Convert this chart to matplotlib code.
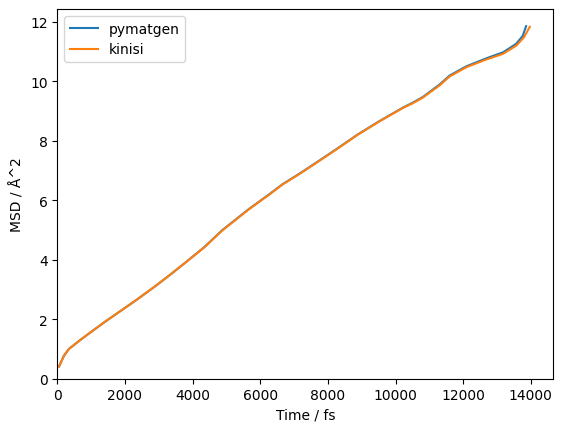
import matplotlib
matplotlib.use("Agg")
import matplotlib.pyplot as plt

# kinisi series (time in fs, MSD in Å^2)
kinisi_t = [50, 193, 341, 687, 984, 1378, 1872, 2365, 2859, 3353, 3847, 4341, 4884,
            5659, 6267, 6662, 7156, 7650, 8243, 8883, 9526, 10217, 10513, 10810,
            11304, 11600, 12095, 12687, 13179, 13576, 13800, 13970]
kinisi_msd = [0.41, 0.77, 1.00, 1.31, 1.56, 1.89, 2.28, 2.67, 3.08, 3.51, 3.96, 4.41, 4.99,
              5.69, 6.19, 6.53, 6.88, 7.25, 7.70, 8.20, 8.65, 9.10, 9.26, 9.45,
              9.86, 10.16, 10.47, 10.73, 10.92, 11.20, 11.48, 11.83]

# pymatgen series
pymatgen_t = [50, 193, 341, 687, 984, 1378, 1872, 2365, 2859, 3353, 3847, 4341, 4884,
              5659, 6267, 6662, 7156, 7650, 8243, 8883, 9526, 10217, 10513, 10810,
              11304, 11600, 12095, 12687, 13179, 13560, 13760, 13860]
pymatgen_msd = [0.41, 0.77, 1.00, 1.31, 1.56, 1.89, 2.28, 2.67, 3.08, 3.51, 3.96, 4.42, 5.00,
                5.70, 6.20, 6.54, 6.89, 7.26, 7.71, 8.21, 8.66, 9.11, 9.28, 9.47,
                9.89, 10.19, 10.50, 10.77, 10.97, 11.25, 11.52, 11.85]

fig, ax = plt.subplots(figsize=(6.4, 4.8), dpi=100)
ax.plot(pymatgen_t, pymatgen_msd, label="pymatgen")
ax.plot(kinisi_t, kinisi_msd, label="kinisi")
ax.set_xlim(left=0)
ax.set_ylim(bottom=0)
ax.set_xlabel("Time / fs")
ax.set_ylabel("MSD / Å^2")
ax.legend(loc="upper left")
fig.savefig("out.png", dpi=100, bbox_inches="tight")
